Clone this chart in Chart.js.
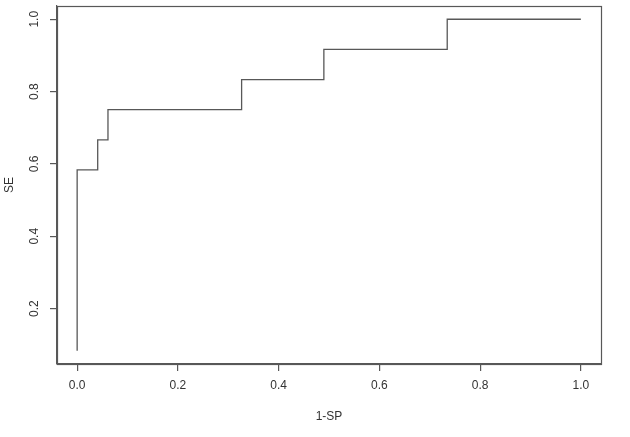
<!DOCTYPE html>
<html>
<head>
<meta charset="utf-8">
<title>SE vs 1-SP</title>
<script src="https://cdn.jsdelivr.net/npm/chart.js@4/dist/chart.umd.min.js"></script>
<style>
  html, body { margin: 0; padding: 0; background: #fff; }
  #graph01 { display: block; }
</style>
</head>
<body>
<canvas id="graph01" width="630" height="437"></canvas>
<script>
// false positive rate (1-SP) where the curve steps, and sensitivity (SE) reached there
const unMoinsSP = [0, 0, 0.0408, 0.0612, 0.3265, 0.4898, 0.7347, 1];
const sensibilite = [0.0833, 0.5833, 0.6667, 0.75, 0.8333, 0.9167, 1, 1];

const ticksX = [0, 0.2, 0.4, 0.6, 0.8, 1.0];
const ticksY = [0.2, 0.4, 0.6, 0.8, 1.0];

const COULEUR_TRAIT = '#585858';
const COULEUR_TEXTE = '#333333';
const POLICE = { family: "'Liberation Sans', Arial, sans-serif", size: 12 };

/**
 * cadre autour de la zone de tracé (comme box() en R)
 */
const cadre = {
  id: 'cadre',
  afterDraw(chart) {
    const { ctx, chartArea: a } = chart;
    ctx.save();
    ctx.strokeStyle = COULEUR_TRAIT;
    ctx.lineWidth = 1.2;
    ctx.strokeRect(a.left + 0.5, a.top + 0.5, a.right - a.left, a.bottom - a.top);
    ctx.restore();
  }
};

function graph01() {
  let data = {
    datasets: [{
      label: 'SE',
      data: unMoinsSP.map((v, i) => ({ x: v, y: sensibilite[i] })),
      stepped: 'before',
      borderColor: COULEUR_TRAIT,
      borderWidth: 1.3,
      pointRadius: 0,
      fill: false
    }]
  };

  let options = {
    responsive: false,
    animation: false,
    layout: { padding: { top: 6, right: 29, left: 0, bottom: 0 } },
    plugins: {
      legend: { display: false },
      tooltip: { enabled: false },
      title: { display: false }
    },
    scales: {
      x: {
        type: 'linear',
        min: -0.04, max: 1.04,
        afterBuildTicks: (s) => { s.ticks = ticksX.map(v => ({ value: v })); },
        afterFit: (s) => { s.height = 73; s.paddingLeft = 0; s.paddingRight = 0; },
        grid: { drawOnChartArea: false, drawTicks: true, tickLength: 7, color: COULEUR_TRAIT, lineWidth: 1.2 },
        border: { display: true, color: COULEUR_TRAIT, width: 1.2 },
        ticks: {
          autoSkip: false, padding: 7, color: COULEUR_TEXTE, font: POLICE,
          maxRotation: 0,
          callback: (v) => Number(v).toFixed(1)
        },
        title: { display: true, text: '1-SP', color: COULEUR_TEXTE, font: POLICE, padding: { top: 0, bottom: 13 } }
      },
      y: {
        type: 'linear',
        min: 0.0467, max: 1.0367,
        afterBuildTicks: (s) => { s.ticks = ticksY.map(v => ({ value: v })); },
        afterFit: (s) => { s.width = 57; s.paddingTop = 0; s.paddingBottom = 0; },
        grid: { drawOnChartArea: false, drawTicks: true, tickLength: 7, color: COULEUR_TRAIT, lineWidth: 1.2 },
        border: { display: true, color: COULEUR_TRAIT, width: 1.2 },
        ticks: {
          autoSkip: false, padding: 6.5, color: COULEUR_TEXTE, font: POLICE,
          minRotation: 90, maxRotation: 90, crossAlign: 'center',
          callback: (v) => Number(v).toFixed(1)
        },
        title: { display: true, text: 'SE', color: COULEUR_TEXTE, font: POLICE, padding: { top: 2, bottom: 0 } }
      }
    }
  };

  let ctx = document.getElementById('graph01').getContext('2d');
  new Chart(ctx, { type: 'line', data: data, options: options, plugins: [cadre] });
}

graph01();
</script>
</body>
</html>
